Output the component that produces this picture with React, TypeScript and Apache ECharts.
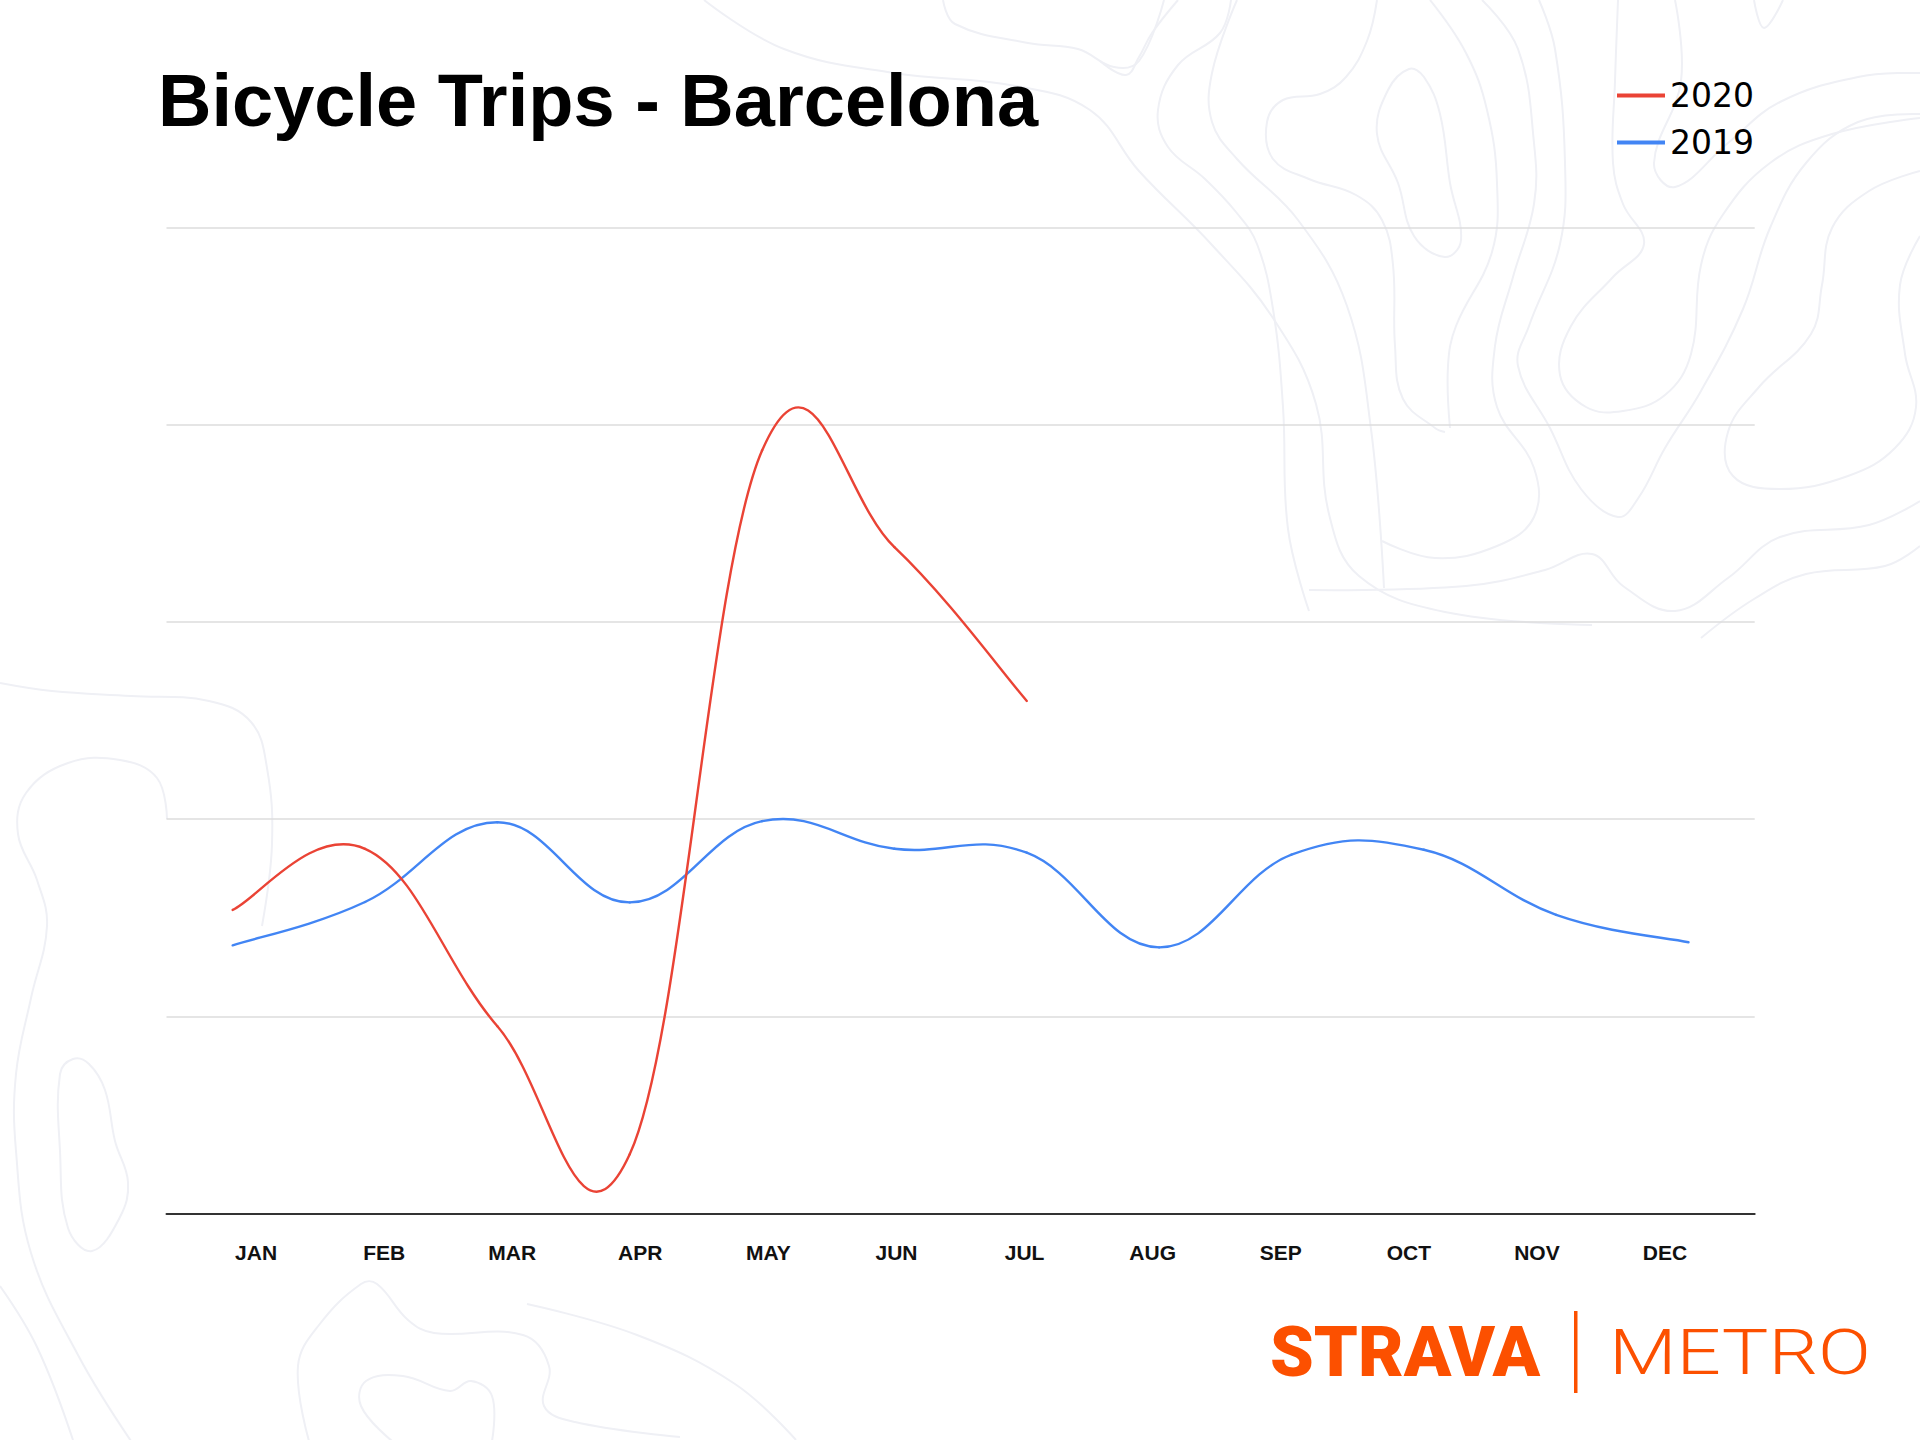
import React, { useEffect, useRef } from "react";
import * as echarts from "echarts";

const MONTHS = ["JAN", "FEB", "MAR", "APR", "MAY", "JUN", "JUL", "AUG", "SEP", "OCT", "NOV", "DEC"];
const TRIPS_2020 = [1.54, 1.85, 0.95, 0.3, 3.87, 3.38, 2.6];
const TRIPS_2019 = [1.36, 1.58, 1.985, 1.578, 1.99, 1.85, 1.83, 1.35, 1.82, 1.845, 1.515, 1.376];
const SERIES_NAMES = ["2020", "2019"];
const Y_MIN = 0;
const Y_MAX = 5;
const Y_STEP = 1;
const TENSION = 0.2;

const RED = "#ea4335";
const BLUE = "#4285f4";
const ORANGE = "#fc5000";
const CONTOUR = "#eff0f5";

// decorative topographic background lines (page pixel coordinates)
const CONTOURS: { pts: number[][]; closed?: boolean }[] = [
  { pts: [[1100, 61], [1126, 75], [1139, 57], [1152, 33], [1178, 0]] },
  { pts: [[1231, 0], [1220, 33], [1178, 65], [1158, 110], [1168, 147], [1205, 179], [1236, 212], [1257, 244], [1273, 309], [1283, 407], [1288, 529], [1309, 611]] },
  { pts: [[1377, 0], [1367, 41], [1346, 77], [1320, 94], [1283, 100], [1267, 122], [1273, 159], [1309, 179], [1356, 195], [1382, 220], [1393, 265], [1395, 346], [1403, 399], [1435, 428], [1445, 432]] },
  { pts: [[1409, 69], [1388, 90], [1377, 134], [1398, 183], [1414, 236], [1445, 257], [1461, 240], [1450, 183], [1440, 114], [1424, 77]], closed: true },
  { pts: [[1430, 0], [1466, 53], [1487, 110], [1497, 183], [1492, 252], [1456, 326], [1448, 366], [1450, 428]] },
  { pts: [[1482, 0], [1518, 49], [1534, 143], [1534, 204], [1513, 277], [1495, 346], [1497, 407], [1534, 468], [1534, 517], [1497, 546], [1435, 558], [1382, 541]] },
  { pts: [[1539, 0], [1555, 49], [1565, 163], [1560, 244], [1529, 326], [1518, 366], [1550, 428], [1581, 489], [1618, 517], [1639, 497], [1665, 448], [1701, 391], [1743, 309], [1770, 228], [1806, 163], [1858, 122], [1920, 114]] },
  { pts: [[1618, 0], [1615, 81], [1613, 163], [1623, 204], [1644, 244], [1613, 277], [1571, 326], [1560, 375], [1586, 407], [1623, 411], [1665, 395], [1691, 354], [1701, 265], [1722, 216], [1770, 163], [1832, 134], [1920, 118]] },
  { pts: [[1675, 0], [1681, 81], [1654, 163], [1675, 187], [1728, 143], [1780, 102], [1858, 77], [1920, 73]] },
  { pts: [[1754, 0], [1764, 28], [1783, 0]] },
  { pts: [[1920, 171], [1869, 191], [1832, 228], [1822, 285], [1811, 334], [1759, 387], [1728, 432], [1733, 476], [1780, 489], [1848, 476], [1895, 448], [1916, 407], [1905, 354], [1900, 285], [1920, 236]] },
  { pts: [[1920, 501], [1869, 525], [1780, 537], [1728, 578], [1675, 611], [1623, 586], [1592, 554], [1545, 570], [1466, 586], [1309, 590]] },
  { pts: [[1920, 546], [1885, 566], [1806, 574], [1754, 599], [1701, 638]] },
  { pts: [[704, 0], [784, 49], [894, 73], [1016, 86], [1090, 110], [1139, 171], [1212, 245], [1273, 318], [1316, 404], [1329, 514], [1359, 576], [1445, 612], [1592, 625]] },
  { pts: [[943, 0], [955, 24], [1028, 43], [1078, 49], [1114, 67], [1139, 61], [1164, 0]] },
  { pts: [[1237, 0], [1212, 73], [1212, 122], [1237, 159], [1298, 220], [1347, 306], [1371, 429], [1384, 588]] },
  { pts: [[0, 683], [52, 691], [131, 696], [209, 701], [251, 722], [267, 768], [272, 844], [262, 926]] },
  { pts: [[167, 819], [157, 778], [120, 760], [68, 763], [26, 793], [18, 834], [37, 880], [47, 926], [31, 998], [16, 1074], [16, 1151], [31, 1253], [78, 1355], [131, 1441]] },
  { pts: [[73, 1059], [60, 1074], [60, 1151], [68, 1228], [92, 1251], [120, 1217], [128, 1182], [115, 1141], [105, 1090], [89, 1064]], closed: true },
  { pts: [[309, 1441], [298, 1366], [319, 1325], [361, 1284], [377, 1284], [408, 1320], [434, 1333], [523, 1335], [549, 1366], [544, 1406], [575, 1422], [680, 1437]] },
  { pts: [[392, 1441], [361, 1406], [366, 1381], [403, 1376], [450, 1391], [471, 1381], [492, 1396], [492, 1441]] },
  { pts: [[527, 1304], [637, 1335], [735, 1384], [796, 1440]] },
  { pts: [[0, 1286], [37, 1347], [73, 1440]] },
];

// cardinal-spline renderer: each data item draws the segment to the next one
function makeRenderer(values: number[], color: string) {
  return (params: any, api: any) => {
    const i = params.dataIndex;
    const n = values.length;
    if (i >= n - 1) return { type: "group", children: [] };
    const P = (j: number) => {
      const k = Math.max(0, Math.min(n - 1, j));
      return api.coord([k, values[k]]);
    };
    const p0 = P(i - 1);
    const p1 = P(i);
    const p2 = P(i + 1);
    const p3 = P(i + 2);
    const c1x = p1[0] + TENSION * (p2[0] - p0[0]);
    const c1y = p1[1] + TENSION * (p2[1] - p0[1]);
    const c2x = p2[0] - TENSION * (p3[0] - p1[0]);
    const c2y = p2[1] - TENSION * (p3[1] - p1[1]);
    return {
      type: "bezierCurve",
      shape: { x1: p1[0], y1: p1[1], x2: p2[0], y2: p2[1], cpx1: c1x, cpy1: c1y, cpx2: c2x, cpy2: c2y },
      style: { stroke: color, lineWidth: 2.4, fill: null, lineCap: "round" },
    };
  };
}

export default function App() {
  const ref = useRef<HTMLDivElement>(null);

  useEffect(() => {
    if (!ref.current) return;
    const chart = echarts.init(ref.current, null, { renderer: "svg" });

    const contourGraphics = CONTOURS.map((c) => ({
      type: c.closed ? "polygon" : "polyline",
      silent: true,
      z: -10,
      shape: { points: c.pts, smooth: 0.4 },
      style: { stroke: CONTOUR, lineWidth: 2, fill: c.closed ? "none" : undefined },
    }));

    const option: any = {
      animation: false,
      backgroundColor: "#ffffff",
      legend: {
        data: [
          { name: SERIES_NAMES[0], itemStyle: { color: RED } },
          { name: SERIES_NAMES[1], itemStyle: { color: BLUE } },
        ],
        orient: "vertical",
        left: 1617,
        top: 79,
        padding: 0,
        itemWidth: 48,
        itemHeight: 4,
        itemGap: 14,
        icon: "rect",
        textStyle: { fontFamily: "DejaVu Sans", fontSize: 33, color: "#000", lineHeight: 32 },
      },
      grid: [
        { left: 166.5, top: 227.8, width: 1588.2, height: 985.7, containLabel: false },
        { left: 192, top: 227.8, width: 1537, height: 985.7, containLabel: false },
      ],
      xAxis: [
        {
          type: "category",
          gridIndex: 0,
          data: MONTHS,
          boundaryGap: true,
          axisLine: { show: true, lineStyle: { color: "#333333", width: 2 } },
          axisTick: { show: false },
          axisLabel: { show: false },
          splitLine: { show: false },
        },
        {
          type: "category",
          gridIndex: 1,
          data: MONTHS,
          boundaryGap: true,
          axisLine: { show: false },
          axisTick: { show: false },
          splitLine: { show: false },
          axisLabel: {
            show: true,
            interval: 0,
            margin: 28,
            fontFamily: "Liberation Sans",
            fontWeight: "bold",
            fontSize: 21,
            lineHeight: 22,
            color: "#111111",
          },
        },
      ],
      yAxis: [
        {
          type: "value",
          gridIndex: 0,
          min: Y_MIN,
          max: Y_MAX,
          interval: Y_STEP,
          axisLine: { show: false },
          axisTick: { show: false },
          axisLabel: { show: false },
          splitLine: { show: true, lineStyle: { color: "#dcdcdc", width: 1.5 } },
        },
        { type: "value", gridIndex: 1, min: Y_MIN, max: Y_MAX, show: false, splitLine: { show: false } },
      ],
      series: [
        {
          name: SERIES_NAMES[0],
          type: "custom",
          coordinateSystem: "cartesian2d",
          xAxisIndex: 0,
          yAxisIndex: 0,
          data: TRIPS_2020.map((v, i) => [i, v]),
          encode: { x: 0, y: 1 },
          renderItem: makeRenderer(TRIPS_2020, RED),
          itemStyle: { color: RED },
          clip: false,
          silent: true,
          z: 3,
        },
        {
          name: SERIES_NAMES[1],
          type: "custom",
          coordinateSystem: "cartesian2d",
          xAxisIndex: 0,
          yAxisIndex: 0,
          data: TRIPS_2019.map((v, i) => [i, v]),
          encode: { x: 0, y: 1 },
          renderItem: makeRenderer(TRIPS_2019, BLUE),
          itemStyle: { color: BLUE },
          clip: false,
          silent: true,
          z: 2,
        },
      ],
      graphic: [
        ...contourGraphics,
        {
          type: "text",
          x: 158,
          y: 100,
          style: {
            text: "Bicycle Trips - Barcelona",
            fontFamily: "Liberation Sans",
            fontWeight: "bold",
            fontSize: 74,
            fill: "#000000",
            verticalAlign: "middle",
            align: "left",
          },
        },
        {
          type: "text",
          x: 1270,
          y: 1352,
          style: {
            text: "STRAVA",
            fontFamily: "Roboto",
            fontWeight: 900,
            fontSize: 70,
            fill: ORANGE,
            verticalAlign: "middle",
            align: "left",
          },
        },
        {
          type: "rect",
          shape: { x: 1574, y: 1311, width: 3.5, height: 82 },
          style: { fill: ORANGE },
        },
        {
          type: "text",
          x: 1609,
          y: 1352,
          scaleX: 1.24,
          style: {
            text: "METRO",
            fontFamily: "Roboto",
            fontWeight: 300,
            fontSize: 63,
            fill: ORANGE,
            verticalAlign: "middle",
            align: "left",
          },
        },
      ],
    };

    chart.setOption(option);
    return () => chart.dispose();
  }, []);

  return (
    <div
      ref={ref}
      style={{ position: "absolute", left: 0, top: 0, width: 1920, height: 1440, background: "#fff" }}
    />
  );
}
